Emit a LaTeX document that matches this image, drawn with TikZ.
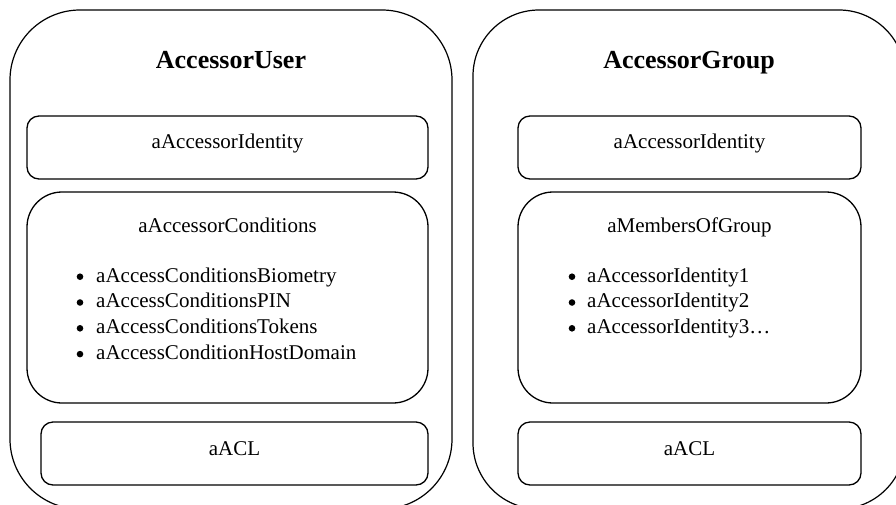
\documentclass[tikz,border=0pt]{standalone}
\usepackage{fontspec}
\setmainfont{Liberation Serif}
\begin{document}
\begin{tikzpicture}[x=1pt,y=-1pt,
  outerbox/.style={draw, line width=1.2pt, rounded corners=#1, inner sep=0pt},
  innerbox/.style={draw, line width=1.3pt, rounded corners=#1, inner sep=0pt},
  titletext/.style={anchor=base, inner sep=0pt, font=\fontsize{26}{30}\selectfont\bfseries},
  bodytext/.style={anchor=base, inner sep=0pt, font=\fontsize{21}{25}\selectfont},
  itemtext/.style={anchor=base west, inner sep=0pt, font=\fontsize{21}{25}\selectfont},
  bulletdot/.style={circle, fill=black, inner sep=0pt, minimum size=6.6pt}
]
\useasboundingbox (0,0) rectangle (896,504);
\fill[white] (0,0) rectangle (896,504);

% outer boxes
\node[outerbox=70pt, minimum width=442pt, minimum height=499pt] (user) at (231,259.5) {};
\node[outerbox=66pt, minimum width=432pt, minimum height=499pt] (group) at (689,259.5) {};

% titles
\node[titletext] (usertitle) at (231,68) {AccessorUser};
\node[titletext] (grouptitle) at (689,68) {AccessorGroup};

% left inner boxes
\node[innerbox=12pt, minimum width=401pt, minimum height=63pt] (uid) at (227.5,147.5) {};
\node[innerbox=35pt, minimum width=401pt, minimum height=211pt] (ucond) at (227.5,297.5) {};
\node[innerbox=12pt, minimum width=387pt, minimum height=63pt] (uacl) at (234.5,453.5) {};

% right inner boxes
\node[innerbox=12pt, minimum width=343pt, minimum height=63pt] (gid) at (689.5,147.5) {};
\node[innerbox=35pt, minimum width=343pt, minimum height=211pt] (gmem) at (689.5,297.5) {};
\node[innerbox=12pt, minimum width=343pt, minimum height=63pt] (gacl) at (689.5,453.5) {};

% left texts
\node[bodytext] (uidtext) at (227.5,148) {aAccessorIdentity};
\node[bodytext] (ucondtext) at (227.5,232) {aAccessorConditions};
\node[bulletdot] (ub1) at (80,276.7) {};
\node[itemtext] (ui1) at (96,282) {aAccessConditionsBiometry};
\node[bulletdot] (ub2) at (80,302.5) {};
\node[itemtext] (ui2) at (96,307.8) {aAccessConditionsPIN};
\node[bulletdot] (ub3) at (80,328.3) {};
\node[itemtext] (ui3) at (96,333.6) {aAccessConditionsTokens};
\node[bulletdot] (ub4) at (80,354.1) {};
\node[itemtext] (ui4) at (96,359.4) {aAccessConditionHostDomain};
\node[bodytext] (uacltext) at (234.5,455) {aACL};

% right texts
\node[bodytext] (gidtext) at (689.5,148) {aAccessorIdentity};
\node[bodytext] (gmemtext) at (689.5,232) {aMembersOfGroup};
\node[bulletdot] (gb1) at (572,276.7) {};
\node[itemtext] (gi1) at (587,282) {aAccessorIdentity1};
\node[bulletdot] (gb2) at (572,302.5) {};
\node[itemtext] (gi2) at (587,307.8) {aAccessorIdentity2};
\node[bulletdot] (gb3) at (572,328.3) {};
\node[itemtext] (gi3) at (587,333.6) {aAccessorIdentity3…};
\node[bodytext] (gacltext) at (689.5,455) {aACL};
\end{tikzpicture}
\end{document}
